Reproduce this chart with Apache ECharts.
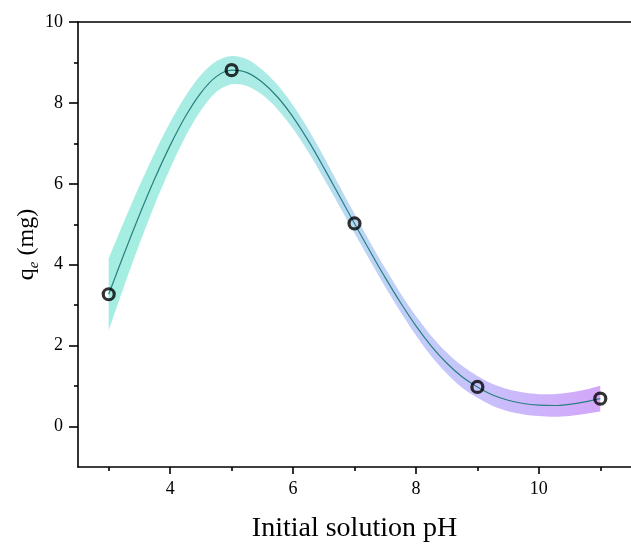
<!DOCTYPE html>
<html><head><meta charset="utf-8">
<script src="https://cdn.jsdelivr.net/npm/echarts@6/dist/echarts.min.js"></script>
<style>html,body{margin:0;padding:0;background:#fff}#c{width:631px;height:544px}</style>
</head><body><div id="c"></div>
<script>
const phPoints = [3, 5, 7, 9, 11];
const qePoints = [3.27, 8.81, 5.02, 0.98, 0.69];

const fitX = [3, 3.25, 3.5, 3.75, 4, 4.25, 4.5, 4.75, 5, 5.25, 5.5, 5.75, 6, 6.25, 6.5, 6.75, 7, 7.25, 7.5, 7.75, 8, 8.25, 8.5, 8.75, 9, 9.25, 9.5, 9.75, 10, 10.25, 10.5, 10.75, 11];
const fitY = [3.27, 4.27, 5.23, 6.13, 6.95, 7.67, 8.25, 8.65, 8.81, 8.75, 8.51, 8.14, 7.65, 7.06, 6.40, 5.71, 5.02, 4.34, 3.68, 3.06, 2.49, 1.99, 1.57, 1.23, 0.98, 0.78, 0.65, 0.57, 0.53, 0.52, 0.55, 0.61, 0.69];
const bandLow = [2.38, 3.47, 4.51, 5.49, 6.38, 7.17, 7.81, 8.27, 8.46, 8.42, 8.20, 7.84, 7.36, 6.78, 6.13, 5.46, 4.78, 4.11, 3.45, 2.83, 2.25, 1.74, 1.31, 0.96, 0.71, 0.51, 0.38, 0.30, 0.26, 0.24, 0.26, 0.31, 0.37];
const bandHigh = [4.16, 5.07, 5.95, 6.77, 7.52, 8.17, 8.69, 9.03, 9.16, 9.08, 8.82, 8.44, 7.94, 7.34, 6.67, 5.96, 5.26, 4.57, 3.91, 3.29, 2.73, 2.24, 1.83, 1.50, 1.25, 1.05, 0.92, 0.84, 0.80, 0.80, 0.84, 0.91, 1.01];

const xMajorTicks = [4, 6, 8, 10];
const xMinorTicks = [3, 5, 7, 9, 11];
const yMajorTicks = [0, 2, 4, 6, 8, 10];
const yMinorTicks = [1, 3, 5, 7, 9];

const FONT = '"Liberation Serif", "DejaVu Serif", serif';
const AX = { color: '#000', width: 1.6 };

const fitData = fitX.map((x, i) => [x, fitY[i]]);
const ptData = phPoints.map((x, i) => [x, qePoints[i]]);

const bandFill = new echarts.graphic.LinearGradient(0, 0, 1, 0, [
  { offset: 0, color: '#a4eee1' },
  { offset: 0.35, color: '#acebe6' },
  { offset: 0.5, color: '#bcd7f5' },
  { offset: 0.75, color: '#c8c2fb' },
  { offset: 1, color: '#d3a6fa' }
]);

const chart = echarts.init(document.getElementById('c'), null, { renderer: 'canvas' });
chart.setOption({
  animation: false,
  backgroundColor: '#fff',
  grid: { left: 78, top: 22, right: 0, bottom: 77, containLabel: false, outerBoundsMode: 'none' },
  xAxis: [
    {
      type: 'value', min: 2.5, max: 11.5, position: 'bottom',
      axisLine: { show: true, onZero: false, lineStyle: AX },
      axisTick: { show: true, customValues: xMajorTicks, length: 7, lineStyle: AX },
      axisLabel: { customValues: xMajorTicks, fontSize: 18, fontFamily: FONT, color: '#000', margin: 13 },
      splitLine: { show: false },
      name: 'Initial solution pH', nameLocation: 'middle', nameGap: 48, nameMoveOverlap: false,
      nameTextStyle: { fontSize: 28, fontFamily: FONT, color: '#000' }
    },
    {
      type: 'value', min: 2.5, max: 11.5, position: 'bottom',
      axisLine: { show: false, onZero: false },
      axisTick: { show: true, customValues: xMinorTicks, length: 4, lineStyle: AX },
      axisLabel: { show: false }, splitLine: { show: false }
    },
    {
      type: 'value', min: 2.5, max: 11.5, position: 'top',
      axisLine: { show: true, onZero: false, lineStyle: AX },
      axisTick: { show: false }, axisLabel: { show: false }, splitLine: { show: false }
    }
  ],
  yAxis: [
    {
      type: 'value', min: -1, max: 10, position: 'left',
      axisLine: { show: true, onZero: false, lineStyle: AX },
      axisTick: { show: true, customValues: yMajorTicks, length: 9, lineStyle: AX },
      axisLabel: { customValues: yMajorTicks, fontSize: 18, fontFamily: FONT, color: '#000', margin: 15 },
      splitLine: { show: false },
      name: '{a|q}{e|e}{a| (mg)}', nameLocation: 'middle', nameGap: 36, nameRotate: 90, nameMoveOverlap: false,
      nameTextStyle: {
        fontSize: 24, fontFamily: FONT, color: '#000',
        rich: {
          a: { fontSize: 24, fontFamily: FONT, color: '#000', lineHeight: 30 },
          e: { fontSize: 15, fontFamily: FONT, fontStyle: 'italic', color: '#000', verticalAlign: 'bottom', lineHeight: 30 }
        }
      }
    },
    {
      type: 'value', min: -1, max: 10, position: 'left',
      axisLine: { show: false, onZero: false },
      axisTick: { show: true, customValues: yMinorTicks, length: 4, lineStyle: AX },
      axisLabel: { show: false }, splitLine: { show: false }
    }
  ],
  series: [
    {
      type: 'custom', coordinateSystem: 'cartesian2d', xAxisIndex: 0, yAxisIndex: 0,
      data: [[fitX[0], bandLow[0]]], silent: true, z: 1,
      renderItem: function (params, api) {
        const n = fitX.length;
        const pts = [];
        pts.push(api.coord([fitX[0], bandHigh[0]]));
        for (let i = 0; i < n; i++) pts.push(api.coord([fitX[i], bandHigh[i]]));
        pts.push(api.coord([fitX[n - 1], bandHigh[n - 1]]));
        pts.push(api.coord([fitX[n - 1], bandLow[n - 1]]));
        for (let i = n - 1; i >= 0; i--) pts.push(api.coord([fitX[i], bandLow[i]]));
        pts.push(api.coord([fitX[0], bandLow[0]]));
        return { type: 'polygon', shape: { points: pts, smooth: 0.3 }, style: { fill: bandFill, stroke: null } };
      }
    },
    {
      type: 'line', data: fitData, smooth: 0.3, symbol: 'none', xAxisIndex: 0, yAxisIndex: 0,
      lineStyle: { color: '#2a7f80', width: 1.2 }, z: 3
    },
    {
      type: 'scatter', data: ptData, symbol: 'circle', symbolSize: 11, xAxisIndex: 0, yAxisIndex: 0,
      itemStyle: { color: 'rgba(0,0,0,0)', borderColor: '#000', borderWidth: 3.2 }, z: 5
    }
  ]
});
</script></body></html>
